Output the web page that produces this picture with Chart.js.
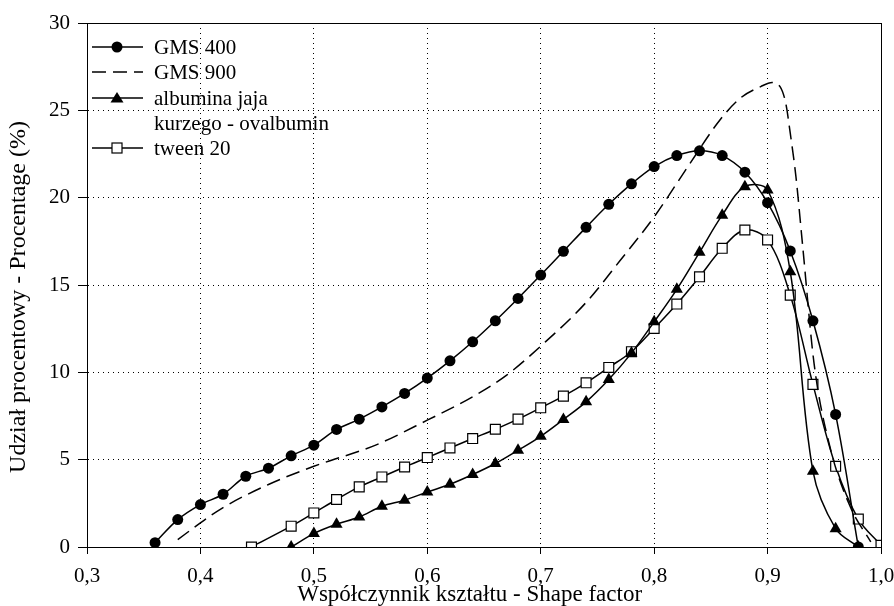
<!DOCTYPE html>
<html>
<head>
<meta charset="utf-8">
<script src="https://cdn.jsdelivr.net/npm/chart.js@4/dist/chart.umd.min.js"></script>
<style>
  html, body { margin: 0; padding: 0; background: #fff; }
  #wrap { width: 894px; height: 606px; }
</style>
</head>
<body>
<div id="wrap"><canvas id="wykres" width="894" height="606"></canvas></div>
<script>
// GMS 400 (kółka)
var gms400X = [0.36, 0.38, 0.40, 0.42, 0.44, 0.46, 0.48, 0.50, 0.52, 0.54, 0.56, 0.58, 0.60, 0.62, 0.64, 0.66,
               0.68, 0.70, 0.72, 0.74, 0.76, 0.78, 0.80, 0.82, 0.84, 0.86, 0.88, 0.90, 0.92, 0.94, 0.96, 0.98];
var gms400Y = [0.25, 1.57, 2.43, 3.02, 4.05, 4.51, 5.22, 5.83, 6.73, 7.32, 8.02, 8.79, 9.67, 10.66, 11.75, 12.95,
               14.23, 15.57, 16.93, 18.30, 19.62, 20.79, 21.78, 22.41, 22.68, 22.41, 21.46, 19.71, 16.95, 12.95, 7.59, 0];

// GMS 900 (linia przerywana)
var gms900X = [0.38, 0.40, 0.42, 0.46, 0.50, 0.555, 0.60, 0.64, 0.67, 0.70, 0.74, 0.77, 0.80, 0.83,
               0.858, 0.876, 0.894, 0.904, 0.911, 0.916, 0.920, 0.925, 0.931, 0.941, 0.955, 0.973, 0.991];
var gms900Y = [0.42, 1.38, 2.26, 3.58, 4.62, 5.85, 7.26, 8.60, 9.84, 11.5, 14.0, 16.4, 18.9, 21.8,
               24.45, 25.7, 26.36, 26.59, 26.36, 25.41, 23.69, 21.2, 17.19, 10.5, 5.73, 2.29, 0.29];

// albumina jaja kurzego - ovalbumin (trójkąty)
var albuminaX = [0.48, 0.50, 0.52, 0.54, 0.56, 0.58, 0.60, 0.62, 0.64, 0.66, 0.68, 0.70, 0.72,
                 0.74, 0.76, 0.78, 0.80, 0.82, 0.84, 0.86, 0.88, 0.90, 0.92, 0.94, 0.96, 0.98];
var albuminaY = [0, 0.77, 1.30, 1.72, 2.33, 2.68, 3.15, 3.59, 4.15, 4.78, 5.54, 6.34, 7.30,
                 8.31, 9.59, 11.1, 12.89, 14.75, 16.87, 19.0, 20.63, 20.44, 15.76, 4.34, 1.05, 0];

// tween 20 (kwadraty)
var tweenX = [0.445, 0.48, 0.50, 0.52, 0.54, 0.56, 0.58, 0.60, 0.62, 0.64, 0.66, 0.68, 0.70, 0.72,
              0.74, 0.76, 0.78, 0.80, 0.82, 0.84, 0.86, 0.88, 0.90, 0.92, 0.94, 0.96, 0.98, 1.00];
var tweenY = [0, 1.19, 1.95, 2.72, 3.44, 4.01, 4.58, 5.12, 5.67, 6.21, 6.74, 7.32, 7.97, 8.64,
              9.40, 10.28, 11.18, 12.51, 13.91, 15.47, 17.10, 18.15, 17.58, 14.42, 9.31, 4.62, 1.60, 0.1];

var xTicks = [0.3, 0.4, 0.5, 0.6, 0.7, 0.8, 0.9, 1.0];
var yTicks = [0, 5, 10, 15, 20, 25, 30];

var serif = "'Liberation Serif', 'Times New Roman', serif";

function pary(xs, ys) {
    return xs.map(function(x, i) { return { x: x, y: ys[i] }; });
}

// ramka wykresu (górna i prawa krawędź też)
var ramka = {
    id: 'ramka',
    afterDatasetsDraw: function(chart) {
        var a = chart.chartArea, ctx = chart.ctx;
        ctx.save();
        ctx.strokeStyle = '#000';
        ctx.lineWidth = 1;
        ctx.strokeRect(Math.round(a.left) + 0.5, Math.round(a.top) + 0.5,
                       Math.round(a.right - a.left), Math.round(a.bottom - a.top));
        ctx.restore();
    }
};

// legenda rysowana ręcznie (dwie linie dla albuminy)
var legenda = {
    id: 'legenda',
    afterDraw: function(chart) {
        var ctx = chart.ctx;
        var x0 = 92, x1 = 143, xm = 117, xt = 154;
        var wiersze = [
            { y: 47, tekst: 'GMS 400', znak: 'kolo' },
            { y: 72, tekst: 'GMS 900', znak: 'kreska' },
            { y: 98, tekst: 'albumina jaja', znak: 'trojkat' },
            { y: 123, tekst: 'kurzego - ovalbumin', znak: null },
            { y: 148, tekst: 'tween 20', znak: 'kwadrat' }
        ];
        ctx.save();
        wiersze.forEach(function(w) {
            ctx.strokeStyle = '#000';
            ctx.fillStyle = '#000';
            ctx.lineWidth = 1.5;
            if (w.znak) {
                ctx.beginPath();
                ctx.setLineDash(w.znak === 'kreska' ? [14, 7] : []);
                ctx.moveTo(x0, w.y);
                ctx.lineTo(x1, w.y);
                ctx.stroke();
                ctx.setLineDash([]);
            }
            if (w.znak === 'kolo') {
                ctx.beginPath();
                ctx.arc(xm, w.y, 5.5, 0, Math.PI * 2);
                ctx.fill();
            } else if (w.znak === 'trojkat') {
                ctx.beginPath();
                ctx.moveTo(xm, w.y - 6);
                ctx.lineTo(xm + 6.5, w.y + 4.5);
                ctx.lineTo(xm - 6.5, w.y + 4.5);
                ctx.closePath();
                ctx.fill();
            } else if (w.znak === 'kwadrat') {
                ctx.fillStyle = '#fff';
                ctx.fillRect(xm - 5, w.y - 5, 10, 10);
                ctx.lineWidth = 1.2;
                ctx.strokeRect(xm - 5, w.y - 5, 10, 10);
            }
            ctx.fillStyle = '#000';
            ctx.font = '21px ' + serif;
            ctx.textAlign = 'left';
            ctx.textBaseline = 'middle';
            ctx.fillText(w.tekst, xt, w.y + 1);
        });
        ctx.restore();
    }
};

var ctx = document.getElementById('wykres').getContext('2d');

var chart = new Chart(ctx, {
    type: 'line',
    data: {
        datasets: [{
            label: 'GMS 400',
            data: pary(gms400X, gms400Y),
            borderColor: '#000',
            borderWidth: 1.5,
            backgroundColor: '#000',
            pointStyle: 'circle',
            pointRadius: 5.5,
            pointBorderWidth: 0,
            tension: 0.35
        }, {
            label: 'GMS 900',
            data: pary(gms900X, gms900Y),
            borderColor: '#000',
            borderWidth: 1.5,
            borderDash: [14, 7],
            pointRadius: 0,
            cubicInterpolationMode: 'monotone'
        }, {
            label: 'albumina jaja kurzego - ovalbumin',
            data: pary(albuminaX, albuminaY),
            borderColor: '#000',
            borderWidth: 1.5,
            backgroundColor: '#000',
            pointStyle: 'triangle',
            pointRadius: 7,
            pointBorderWidth: 0,
            tension: 0.35
        }, {
            label: 'tween 20',
            data: pary(tweenX, tweenY),
            borderColor: '#000',
            borderWidth: 1.5,
            backgroundColor: '#fff',
            pointStyle: 'rect',
            pointRadius: 7,
            pointBorderWidth: 1.2,
            tension: 0.35
        }]
    },
    options: {
        responsive: false,
        animation: false,
        events: [],
        layout: { padding: { left: 0, top: 23, right: 13, bottom: 0 } },
        plugins: {
            legend: { display: false },
            tooltip: { enabled: false }
        },
        scales: {
            x: {
                type: 'linear',
                min: 0.3,
                max: 1.0,
                afterBuildTicks: function(scale) {
                    scale.ticks = xTicks.map(function(v) { return { value: v }; });
                },
                afterFit: function(scale) {
                    scale.height = 59;
                    scale.paddingLeft = 0;
                    scale.paddingRight = 0;
                },
                grid: { color: '#000', lineWidth: 1, tickLength: 7, tickColor: '#000' },
                border: { display: true, color: '#000', width: 1, dash: [1, 4] },
                ticks: {
                    color: '#000',
                    padding: 10,
                    maxRotation: 0,
                    font: { family: serif, size: 21 },
                    callback: function(v) { return v.toFixed(1).replace('.', ','); }
                },
                title: {
                    display: true,
                    text: 'Współczynnik kształtu - Shape factor\u00a0\u00a0\u00a0\u00a0\u00a0',
                    color: '#000',
                    padding: { top: 0, bottom: 0 },
                    font: { family: serif, size: 23, lineHeight: 1 }
                }
            },
            y: {
                min: 0,
                max: 30,
                afterBuildTicks: function(scale) {
                    scale.ticks = yTicks.map(function(v) { return { value: v }; });
                },
                afterFit: function(scale) { scale.width = 87; },
                grid: { color: '#000', lineWidth: 1, tickLength: 9, tickColor: '#000' },
                border: { display: true, color: '#000', width: 1, dash: [1, 4] },
                ticks: {
                    color: '#000',
                    padding: 8,
                    font: { family: serif, size: 21 }
                },
                title: {
                    display: true,
                    text: 'Udział procentowy - Procentage (%)\u00a0\u00a0\u00a0\u00a0',
                    color: '#000',
                    padding: { top: 4, bottom: 0 },
                    font: { family: serif, size: 24 }
                }
            }
        }
    },
    plugins: [ramka, legenda]
});
</script>
</body>
</html>
